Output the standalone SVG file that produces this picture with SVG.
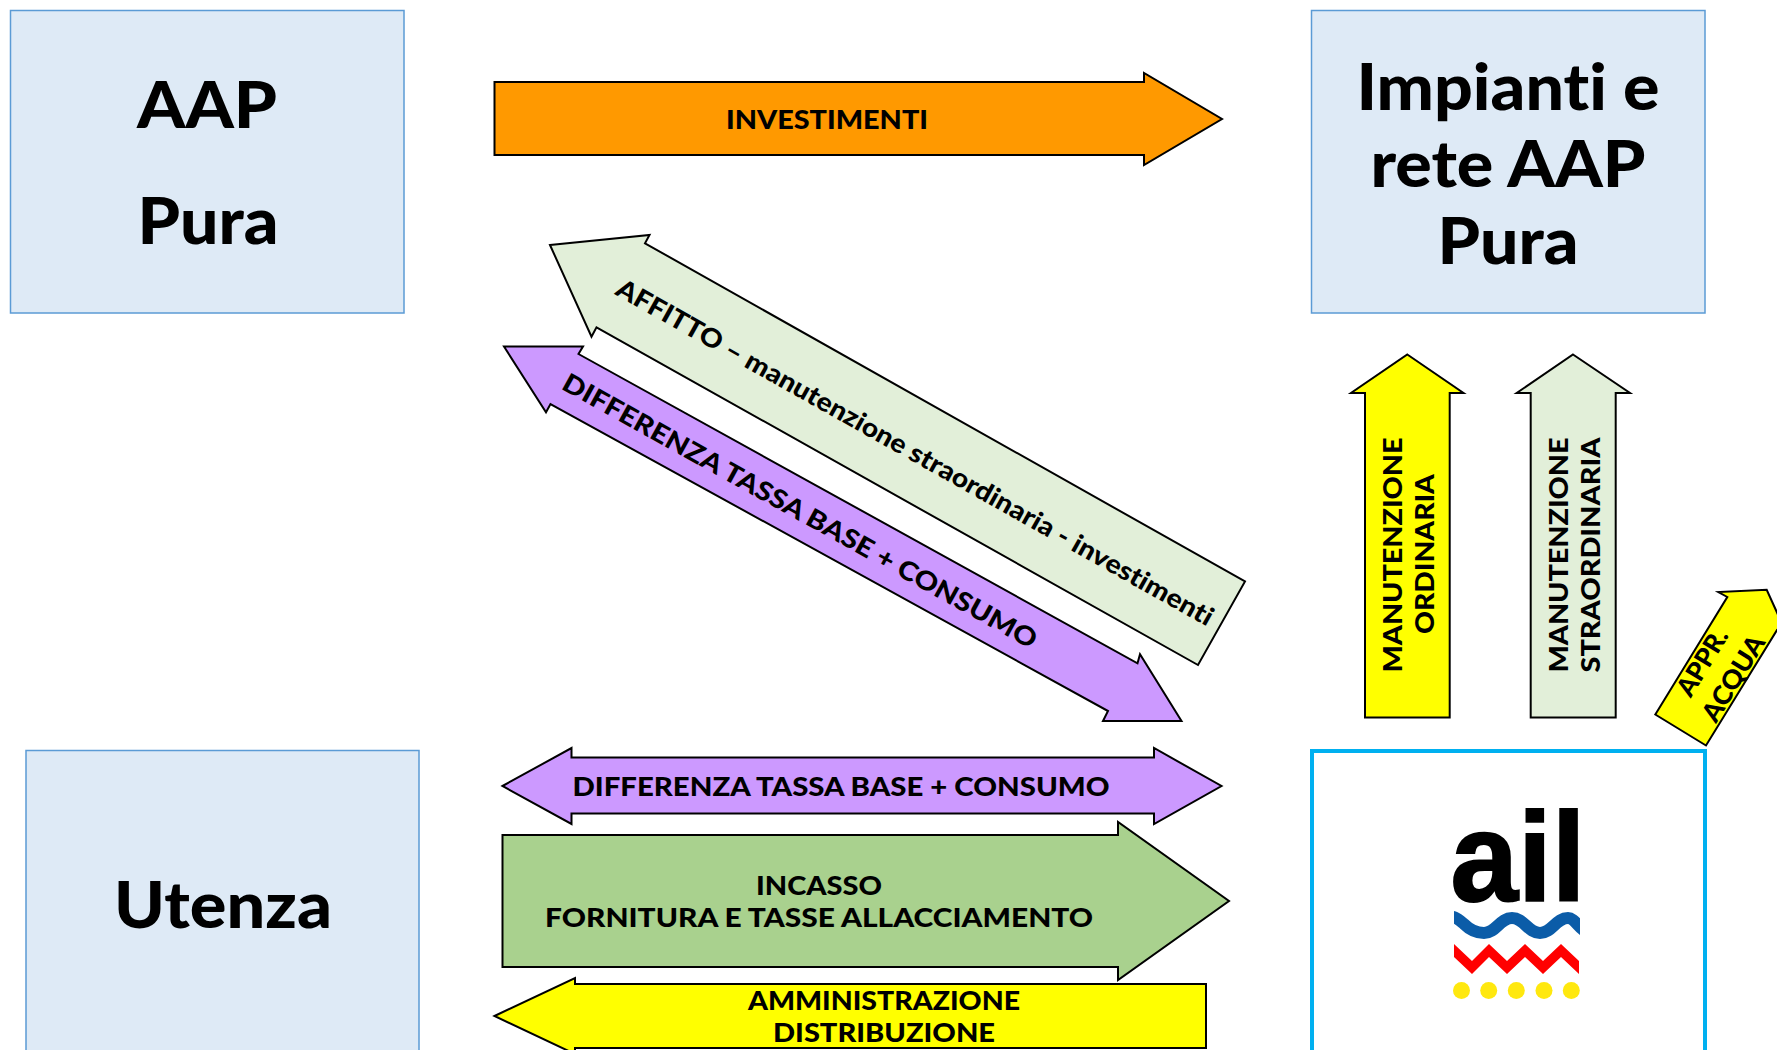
<svg xmlns="http://www.w3.org/2000/svg" width="1777" height="1050" viewBox="0 0 1777 1050">
<style>
text{font-family:"Lato","Open Sans","Liberation Sans",sans-serif;font-weight:900;fill:#000;text-anchor:middle;font-variant-ligatures:none}
.box{fill:#DEEAF6;stroke:#5B9BD5;stroke-width:1.5}
.big{font-size:65px}
.lab{font-size:26px}
.arr{stroke:#000;stroke-width:2;stroke-linejoin:miter}
</style>
<defs><clipPath id="wave-clip"><rect x="1454" y="905" width="126" height="40"/></clipPath></defs>
<rect width="1777" height="1050" fill="#fff"/>
<g id="node-aap">
<rect class="box" x="10.5" y="10.5" width="393.500" height="302.500"/>
<text class="big" x="207" y="128" textLength="140" lengthAdjust="spacingAndGlyphs">AAP</text>
<text class="big" x="208" y="244" textLength="141" lengthAdjust="spacingAndGlyphs">Pura</text>
</g>
<g id="node-impianti">
<rect class="box" x="1311.500" y="10.500" width="393.500" height="302.500"/>
<text class="big" x="1508" y="110" textLength="303" lengthAdjust="spacingAndGlyphs">Impianti e</text>
<text class="big" x="1508" y="187" textLength="275" lengthAdjust="spacingAndGlyphs">rete AAP</text>
<text class="big" x="1508" y="264" textLength="141" lengthAdjust="spacingAndGlyphs">Pura</text>
</g>
<g id="node-utenza">
<rect class="box" x="26" y="750.500" width="393" height="310"/>
<text class="big" x="223" y="928" textLength="218" lengthAdjust="spacingAndGlyphs">Utenza</text>
</g>
<g id="node-ail">
<rect x="1312" y="751" width="393" height="320" fill="#fff" stroke="#00B0F0" stroke-width="4"/>
<text x="1518" y="901" style="font-family:'Liberation Sans',sans-serif;font-weight:700;font-size:127px" textLength="135" lengthAdjust="spacingAndGlyphs" stroke="#000" stroke-width="2">ail</text>
<path clip-path="url(#wave-clip)" d="M1446 917C1454 915 1458 919 1464 924C1470 930 1476 933 1484 933C1496 933 1500 918 1512 918C1524 918 1528 933 1540 933C1552 933 1556 918 1568 918C1576 918 1580 933 1592 933" fill="none" stroke="#0B5CA8" stroke-width="12"/>
<path d="M1454 944L1472 961L1489 944L1507 961L1525 944L1543 961L1561 944L1579 961V974L1561 957L1543 974L1525 957L1507 974L1489 957L1472 974L1454 957Z" fill="#FF0000"/>
<g fill="#FFE80F">
<circle cx="1461.500" cy="990.500" r="8.500"/><circle cx="1488.700" cy="990.500" r="8.500"/><circle cx="1516.300" cy="990.500" r="8.500"/><circle cx="1544" cy="990.500" r="8.500"/><circle cx="1571.300" cy="990.500" r="8.500"/>
</g>
</g>
<g id="connectors">
<g id="arrow-investimenti">
<polygon class="arr" fill="#FF9900" points="494.500,82 1144,82 1144,73 1222,119 1144,165 1144,155 494.500,155"/>
<text class="lab" x="827" y="129" textLength="202" lengthAdjust="spacingAndGlyphs">INVESTIMENTI</text>
</g>
<g id="arrow-affitto">
<polygon class="arr" fill="#E2EFD9" points="550,245 649.500,235 645,243.300 1245,581.500 1198,665 596.500,327.300 591.500,336.700"/>
<text class="lab" transform="translate(915 452.500) rotate(29.300)" x="0" y="9" textLength="680" lengthAdjust="spacingAndGlyphs">AFFITTO – manutenzione straordinaria - investimenti</text>
</g>
<g id="arrow-differenza-diag">
<polygon class="arr" fill="#CC99FF" points="504,346.500 583,346.500 578.500,354 1137.500,663.300 1140,654.300 1181.500,721 1103,721 1108,711 550.500,404 546,412.300"/>
<text class="lab" transform="translate(800 511) rotate(29)" x="0" y="9" textLength="538" lengthAdjust="spacingAndGlyphs">DIFFERENZA TASSA BASE + CONSUMO</text>
</g>
<g id="arrow-differenza">
<polygon class="arr" fill="#CC99FF" points="502.500,786 571.500,748 571.500,757.500 1154,757.500 1154,748 1221.500,786 1154,824 1154,813.500 571.500,813.500 571.500,824"/>
<text class="lab" x="841" y="796" textLength="537" lengthAdjust="spacingAndGlyphs">DIFFERENZA TASSA BASE + CONSUMO</text>
</g>
<g id="arrow-incasso">
<polygon class="arr" fill="#A9D18E" points="502.500,835 1118,835 1118,822 1229,901 1118,980 1118,967 502.500,967"/>
<text class="lab" x="819" y="895" textLength="126" lengthAdjust="spacingAndGlyphs">INCASSO</text>
<text class="lab" x="819" y="927" textLength="548" lengthAdjust="spacingAndGlyphs">FORNITURA E TASSE ALLACCIAMENTO</text>
</g>
<g id="arrow-amministrazione">
<polygon class="arr" fill="#FFFF00" points="494.500,1016 575,978 575,984 1206,984 1206,1048 575,1048 575,1054"/>
<text class="lab" x="884" y="1010" textLength="272" lengthAdjust="spacingAndGlyphs">AMMINISTRAZIONE</text>
<text class="lab" x="884" y="1042" textLength="222" lengthAdjust="spacingAndGlyphs">DISTRIBUZIONE</text>
</g>
<g id="arrow-man-ord">
<polygon class="arr" fill="#FFFF00" points="1407.300,354.500 1463.500,393 1449.700,393 1449.700,717.500 1365,717.500 1365,393 1351,393"/>
<text class="lab" transform="translate(1402 555) rotate(-90)" textLength="235" lengthAdjust="spacingAndGlyphs">MANUTENZIONE</text>
<text class="lab" transform="translate(1434 554) rotate(-90)" textLength="160" lengthAdjust="spacingAndGlyphs">ORDINARIA</text>
</g>
<g id="arrow-man-stra">
<polygon class="arr" fill="#E2EFD9" points="1573,354.500 1630,393 1615.700,393 1615.700,717.500 1530.700,717.500 1530.700,393 1516.700,393"/>
<text class="lab" transform="translate(1568 555) rotate(-90)" textLength="235" lengthAdjust="spacingAndGlyphs">MANUTENZIONE</text>
<text class="lab" transform="translate(1600 555) rotate(-90)" textLength="235" lengthAdjust="spacingAndGlyphs">STRAORDINARIA</text>
</g>
<g id="arrow-acqua">
<polygon class="arr" fill="#FFFF00" points="1655.300,714.500 1727.300,597 1718.300,592 1766.700,589.800 1786.600,633.600 1777,630 1706,745.500"/>
<text class="lab" transform="translate(1710 667) rotate(-58.500)" textLength="74" lengthAdjust="spacingAndGlyphs">APPR.</text>
<text class="lab" transform="translate(1741 683) rotate(-58.500)" textLength="96" lengthAdjust="spacingAndGlyphs">ACQUA</text>
</g>
</g>
</svg>
